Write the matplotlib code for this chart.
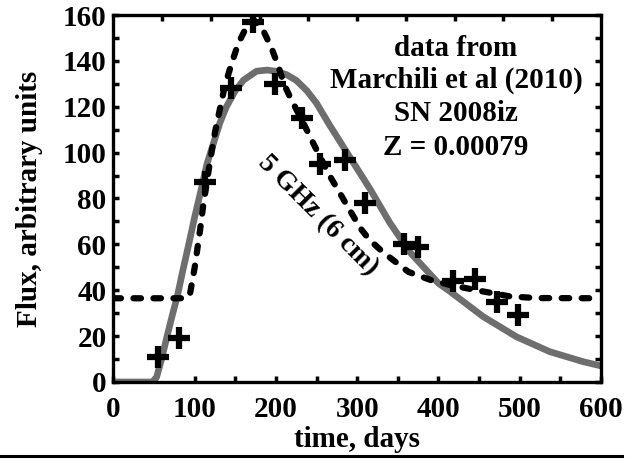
import numpy as np
import matplotlib
matplotlib.use("Agg")
import matplotlib.pyplot as plt
from matplotlib.ticker import MultipleLocator

plt.rcParams['font.family'] = ['Liberation Serif', 'DejaVu Serif']
plt.rcParams['font.weight'] = 'bold'

# observed points (Marchili et al 2010, 5 GHz)
obs_days = [55, 81, 113, 145, 172, 199, 232, 254, 285, 310, 357, 375, 418, 445, 472, 498]
obs_flux = [11, 19, 87, 128, 157, 130, 115, 95, 97, 78, 60, 59, 44, 45, 35, 29]

# dashed curve
dash_days = [0, 90, 94, 100, 106.5, 110.5, 118.8, 125, 131, 137, 145.5, 153.6, 164, 172,
             184, 194.7, 203, 211, 219, 233.6, 246, 266, 289, 304, 315, 332, 363, 390,
             414, 447, 488, 520, 600]
dash_flux = [36.5, 36.5, 38, 50, 66, 77, 96, 109, 119, 129, 139, 147.6, 155, 158,
             153.5, 145.5, 137.5, 129, 123, 113, 104, 90, 76, 67, 62, 56.5, 48, 44.5,
             42.3, 40, 37.3, 36.6, 36.5]

# grey model curve
model_days = [0, 48, 53, 59, 66, 72, 79, 85, 92, 100, 108, 115, 123, 131, 139, 150, 160,
              176, 189, 200, 213, 225, 238, 250, 266, 291, 316, 340, 365, 400, 414, 455,
              496, 537, 578, 600]
model_flux = [0, 0, 2, 9.6, 20, 28.5, 38, 48, 59, 72, 84, 95, 104, 113, 120, 127, 131.6,
              135.5, 136, 135.5, 134, 131.5, 127, 121.5, 112, 98, 84, 69.5, 56.5, 43, 39.5,
              28.5, 19.7, 13.2, 8.85, 7]

info_lines = ["data from", "Marchili et al (2010)", "SN 2008iz", "Z = 0.00079"]
info_y = [145.6, 131.3, 117, 102.4]

fig = plt.figure(figsize=(6.41, 4.59), dpi=100)
ax = fig.add_axes([0.177, 0.1678, 0.7606, 0.7995])

ax.plot(model_days, model_flux, color='#6e6e6e', lw=4.8, solid_capstyle='round',
        solid_joinstyle='round', zorder=2)
ax.plot(dash_days, dash_flux, color='black', lw=4.5, dashes=(1.2, 2.0),
        dash_capstyle='round', zorder=3)
ax.plot(obs_days, obs_flux, '+', color='black', ms=16, mew=4.5, zorder=4)

ax.set_xlim(0, 600)
ax.set_ylim(0, 160)
ax.xaxis.set_major_locator(MultipleLocator(100))
ax.xaxis.set_minor_locator(MultipleLocator(50))
ax.yaxis.set_major_locator(MultipleLocator(20))
ax.yaxis.set_minor_locator(MultipleLocator(10))
ax.tick_params(which='both', direction='in', length=4, width=2.5,
               left=True, right=True, bottom=True, top=False, labelsize=21, pad=5)
ax.tick_params(axis='x', pad=10)
for s in ax.spines.values():
    s.set_linewidth(2.4)

top = ax.twiny()
top.set_xlim(0, 600)
top.set_xticks(np.arange(60, 600, 60))
top.tick_params(direction='in', length=4, width=2.5, labeltop=False)
top.set_xticklabels([])

ax.set_xlabel('time, days', fontsize=21, fontweight='bold', labelpad=2)
ax.set_ylabel('Flux, arbitrary units', fontsize=21, fontweight='bold', labelpad=14)

for line, yv in zip(info_lines, info_y):
    ax.text(421.5, yv, line, ha='center', va='center', fontsize=21,
            fontweight='bold', zorder=5)
ax.text(252, 72.8, "5 GHz (6 cm)", ha='center', va='center', rotation=-45,
        rotation_mode='anchor', fontsize=20, fontweight='bold', zorder=5)

fig.add_artist(plt.Line2D([0, 0.97], [0.0065, 0.0065], color='black', lw=2.2))

fig.savefig('out.png', dpi=100)
